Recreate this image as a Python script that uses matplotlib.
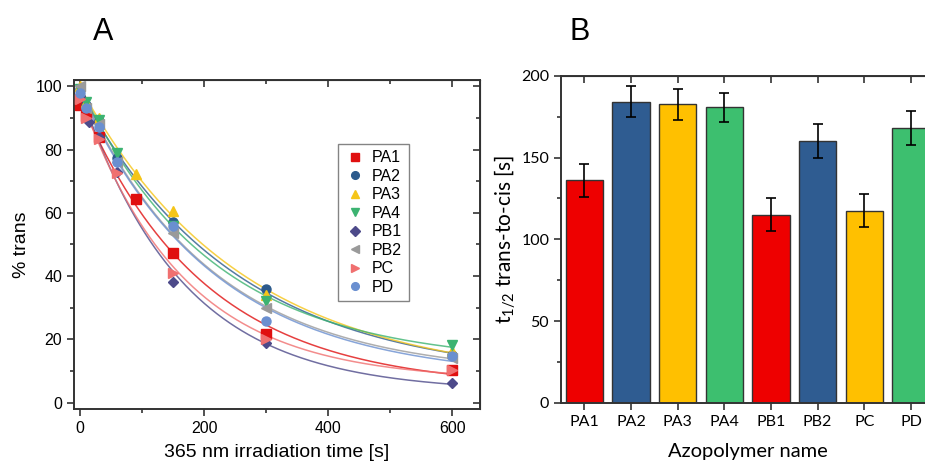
import matplotlib
matplotlib.use("Agg")
import matplotlib.pyplot as plt
from matplotlib.ticker import MultipleLocator, NullFormatter
import numpy as np

plt.rcParams['mathtext.fontset'] = 'custom'
plt.rcParams['mathtext.rm'] = 'Lato'

# ---- panel A: trans fraction vs irradiation time ----
names = ["PA1", "PA2", "PA3", "PA4", "PB1", "PB2", "PC", "PD"]
t_PA1 = [0, 10, 30, 90, 150, 300, 600]
y_PA1 = [94.2, 90.5, 84, 64.3, 47.4, 21.6, 10.3]
t_PA2 = [0, 10, 30, 60, 150, 300, 600]
y_PA2 = [99, 94, 89, 77.3, 57, 35.8, 15.2]
t_PA3 = [0, 10, 30, 90, 150, 300, 600]
y_PA3 = [100, 95, 90, 72.3, 60.5, 34, 16.3]
t_PA4 = [0, 10, 30, 60, 150, 300, 600]
y_PA4 = [99, 95, 89.5, 79, 56, 32.2, 18.2]
t_PB1 = [0, 15, 30, 60, 150, 300, 600]
y_PB1 = [97, 88.6, 84, 73, 38.2, 18.8, 6.3]
t_PB2 = [0, 10, 30, 60, 150, 300, 600]
y_PB2 = [100, 93, 88, 76, 53.7, 30, 14]
t_PC = [0, 10, 30, 60, 150, 300, 600]
y_PC = [96, 90, 83.2, 72.6, 41, 20.2, 10.2]
t_PD = [0, 10, 30, 60, 150, 300, 600]
y_PD = [98, 93, 87, 76, 56, 25.8, 14.6]

times = [t_PA1, t_PA2, t_PA3, t_PA4, t_PB1, t_PB2, t_PC, t_PD]
values = [y_PA1, y_PA2, y_PA3, y_PA4, y_PB1, y_PB2, y_PC, y_PD]
markers = ["s", "o", "^", "v", "D", "<", ">", "o"]
colors = ["#e01010", "#2c5a8c", "#f5c518", "#3cb371", "#4d4a8a", "#9a9a9a", "#f07070", "#6a8fd0"]

# ---- panel B: half-life ----
half_life = [136, 184, 182.5, 180.7, 115, 160, 117.5, 168]
half_err = [10, 9.5, 9.5, 9, 10, 10.5, 10, 10.5]
bar_colors = ["#ee0000", "#2f5c91", "#ffc000", "#3dbf6f",
              "#ee0000", "#2f5c91", "#ffc000", "#3dbf6f"]


def fit_decay(t, y):
    # single exponential y = A*exp(-t/tau) + y0, tau by grid, A & y0 by least squares
    t = np.asarray(t, float)
    y = np.asarray(y, float)
    best = None
    for tau in np.linspace(40, 500, 921):
        X = np.column_stack([np.exp(-t / tau), np.ones_like(t)])
        coef = np.linalg.lstsq(X, y, rcond=None)[0]
        err = np.sum((X @ coef - y) ** 2)
        if best is None or err < best[0]:
            best = (err, tau, coef)
    return best[1], best[2]


def style_ticks(a, fam, size):
    a.tick_params(which="both", direction="out", labelsize=size, color="#333333", width=1.2)
    a.tick_params(which="major", length=5)
    a.tick_params(which="minor", length=3)
    for lab in a.get_xticklabels() + a.get_yticklabels():
        lab.set_family(fam)
    for s in a.spines.values():
        s.set_linewidth(1.4)
        s.set_color("#333333")


fig = plt.figure(figsize=(9.25, 4.68), dpi=100)

ax = fig.add_axes([0.0800, 0.1261, 0.4389, 0.7030])
tt = np.linspace(0, 600, 300)
for n, t, y, m, c in zip(names, times, values, markers, colors):
    tau, (A, y0) = fit_decay(t, y)
    ax.plot(tt, A * np.exp(-tt / tau) + y0, color=c, lw=1.1, alpha=0.8, zorder=2)
for n, t, y, m, c in zip(names, times, values, markers, colors):
    ax.plot(t, y, ls="none", marker=m, ms=6.5 if m != "D" else 5.5, color=c,
            label=n, zorder=3)

ax.set_xlim(-10, 645)
ax.set_ylim(-2, 102)
ax.xaxis.set_major_locator(MultipleLocator(200))
ax.xaxis.set_minor_locator(MultipleLocator(100))
ax.yaxis.set_major_locator(MultipleLocator(20))
ax.yaxis.set_minor_locator(MultipleLocator(10))
style_ticks(ax, "Liberation Sans", 11.5)

# mirrored inward ticks on top and right
top = ax.secondary_xaxis("top")
top.xaxis.set_major_locator(MultipleLocator(200))
top.xaxis.set_minor_locator(MultipleLocator(100))
top.xaxis.set_major_formatter(NullFormatter())
top.tick_params(which="both", direction="in", color="#333333", width=1.2)
top.tick_params(which="major", length=5)
top.tick_params(which="minor", length=3)
right = ax.secondary_yaxis("right")
right.yaxis.set_major_locator(MultipleLocator(20))
right.yaxis.set_minor_locator(MultipleLocator(10))
right.yaxis.set_major_formatter(NullFormatter())
right.tick_params(which="both", direction="in", color="#333333", width=1.2)
right.tick_params(which="major", length=5)
right.tick_params(which="minor", length=3)

ax.set_xlabel("365 nm irradiation time [s]", fontsize=14, family="Liberation Sans", labelpad=6)
ax.set_ylabel("% trans", fontsize=14, family="Liberation Sans", labelpad=4)
leg = ax.legend(loc="upper left", bbox_to_anchor=(0.63, 0.83),
                prop={"family": "Liberation Sans", "size": 11.5},
                frameon=True, fancybox=False, edgecolor="#666666",
                labelspacing=0.22, handletextpad=0.45, borderpad=0.4,
                handlelength=1.3, markerscale=0.85)
leg.get_frame().set_linewidth(1.0)

# ---- panel B ----
bx = fig.add_axes([0.6065, 0.1389, 0.4036, 0.6994])
xpos = np.arange(len(names))
bx.bar(xpos, half_life, width=0.8, color=bar_colors, edgecolor="#333333", linewidth=1.0, zorder=2)
bx.errorbar(xpos, half_life, yerr=half_err, fmt="none", ecolor="black",
            elinewidth=1.2, capsize=3.5, capthick=1.2, zorder=3)
bx.set_xlim(-0.5, 7.5)
bx.set_ylim(0, 200)
bx.set_xticks(xpos)
bx.set_xticklabels(names)
bx.yaxis.set_major_locator(MultipleLocator(50))
bx.yaxis.set_minor_locator(MultipleLocator(25))
style_ticks(bx, "Lato", 11.5)
bx.tick_params(axis="x", which="minor", bottom=False)
btop = bx.secondary_xaxis("top")
btop.set_xticks(xpos)
btop.xaxis.set_major_formatter(NullFormatter())
btop.tick_params(direction="in", length=5, color="#333333", width=1.2)

bx.set_xlabel("Azopolymer name", fontsize=14.5, family="Lato", labelpad=10)
bx.set_ylabel(r"t$_{\mathrm{1/2}}$ trans-to-cis [s]", fontsize=15, family="Lato", labelpad=2)

fig.text(0.1, 0.915, "A", fontsize=22, family="Liberation Sans")
fig.text(0.616, 0.915, "B", fontsize=22, family="Liberation Sans")

fig.savefig("out.png", dpi=100)
